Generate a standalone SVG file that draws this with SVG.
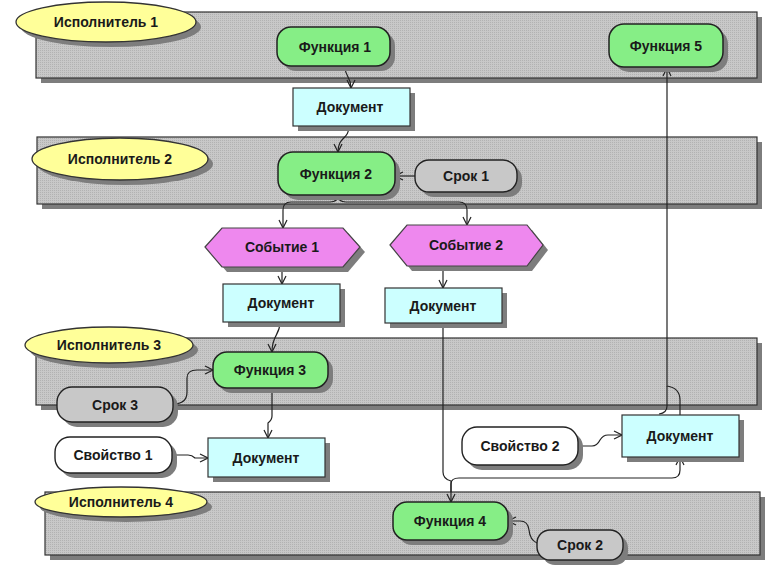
<svg xmlns="http://www.w3.org/2000/svg" width="769" height="570" viewBox="0 0 769 570">
  <defs>
    <pattern id="laneTex" width="2" height="2" patternUnits="userSpaceOnUse">
      <rect width="2" height="2" fill="#c8c8c8"/>
      <rect width="1" height="1" fill="#b2b2b2"/>
    </pattern>
    <marker id="arr" markerWidth="10" markerHeight="10" refX="9" refY="5" orient="auto" markerUnits="userSpaceOnUse">
      <path d="M1,1 L9,5 L1,9" fill="none" stroke="#222" stroke-width="1.2"/>
    </marker>
  </defs>
  <style>
    .lane { fill: url(#laneTex); stroke: #333; stroke-width: 1.2; }
    .shadow { fill: #7d7d7d; }
    .actor { fill: #ffff99; stroke: #333; stroke-width: 1.3; }
    .func { fill: #86ee86; stroke: #222; stroke-width: 1.5; }
    .doc { fill: #ccffff; stroke: #333; stroke-width: 1.2; }
    .event { fill: #ee88ee; stroke: #444; stroke-width: 1.2; }
    .term { fill: #c8c8c8; stroke: #222; stroke-width: 1.4; }
    .prop { fill: #ffffff; stroke: #222; stroke-width: 1.4; }
    .lbl { font-family: "Liberation Sans", Arial, sans-serif; font-weight: bold; font-size: 14px; fill: #1a1a1a; text-anchor: middle; dominant-baseline: central; }
    .conn path { fill: none; stroke: #222; stroke-width: 1.2; }
  </style>

  <rect width="769" height="570" fill="#ffffff"/>

  <!-- swimlanes -->
  <g id="lane1">
    <rect class="shadow" x="41" y="17" width="721" height="66"/>
    <rect class="lane" x="36" y="12" width="721" height="66"/>
  </g>
  <g id="lane2">
    <rect class="shadow" x="42" y="142" width="720" height="67"/>
    <rect class="lane" x="37" y="137" width="720" height="67"/>
  </g>
  <g id="lane3">
    <rect class="shadow" x="41" y="343" width="721" height="67"/>
    <rect class="lane" x="36" y="338" width="721" height="67"/>
  </g>
  <g id="lane4">
    <rect class="shadow" x="50" y="497" width="715" height="63"/>
    <rect class="lane" x="45" y="492" width="715" height="63"/>
  </g>

  <!-- performers -->
  <g id="actor1">
    <ellipse class="shadow" cx="111" cy="27" rx="90" ry="20"/>
    <ellipse class="actor" cx="106" cy="22" rx="90" ry="20"/>
    <text class="lbl" x="106" y="22">Исполнитель 1</text>
  </g>
  <g id="actor2">
    <ellipse class="shadow" cx="125" cy="164" rx="88" ry="21"/>
    <ellipse class="actor" cx="120" cy="159" rx="88" ry="21"/>
    <text class="lbl" x="120" y="159">Исполнитель 2</text>
  </g>
  <g id="actor3">
    <ellipse class="shadow" cx="114" cy="350" rx="84" ry="18"/>
    <ellipse class="actor" cx="109" cy="345" rx="84" ry="18"/>
    <text class="lbl" x="109" y="345">Исполнитель 3</text>
  </g>
  <g id="actor4">
    <ellipse class="shadow" cx="126" cy="507" rx="86" ry="15"/>
    <ellipse class="actor" cx="121" cy="502" rx="86" ry="15"/>
    <text class="lbl" x="121" y="502">Исполнитель 4</text>
  </g>

  <!-- connectors -->
  <g id="connectors" class="conn">
    <path d="M345 66 C345 78 351 76 351 88" marker-end="url(#arr)"/>
    <path d="M349 126 C349 140 338 136 338 152" marker-end="url(#arr)"/>
    <path d="M338 195 Q338 202 330 202 H291 Q283 202 283 210 V228" marker-end="url(#arr)"/>
    <path d="M338 195 Q338 202 346 202 H459 Q467 202 467 210 V225" marker-end="url(#arr)"/>
    <path d="M415 176 H395" marker-end="url(#arr)"/>
    <path d="M282 267 V284" marker-end="url(#arr)"/>
    <path d="M443 266 V288" marker-end="url(#arr)"/>
    <path d="M280 322 C280 336 272 334 272 352" marker-end="url(#arr)"/>
    <path d="M173 404 Q187 404 187 392 V378 Q187 370 197 370 H213" marker-end="url(#arr)"/>
    <path d="M272 388 V416 Q272 420 268 423 V438" marker-end="url(#arr)"/>
    <path d="M172 455 H188 Q192 455 195 458 H208" marker-end="url(#arr)"/>
    <path d="M443 323 V472 Q443 479 451 481 V502" marker-end="url(#arr)"/>
    <path d="M451 492 V484 Q451 478 459 478 H672 Q680 478 680 470 V457" marker-end="url(#arr)"/>
    <path d="M578 446 H592 Q597 446 600 440 Q603 435 608 435 H622" marker-end="url(#arr)"/>
    <path d="M537 543 Q530 540 529 530 Q528 521 520 521 H508" marker-end="url(#arr)"/>
    <path d="M680 415 V400 Q680 388 667 386 V68" marker-end="url(#arr)"/>
    <path d="M667 386 V406 Q667 413 659 414"/>
  </g>

  <!-- functions -->
  <g id="func1">
    <rect class="shadow" x="282" y="32" width="113" height="39" rx="14"/>
    <rect class="func" x="277" y="27" width="113" height="39" rx="14"/>
    <text class="lbl" x="335" y="47">Функция 1</text>
  </g>
  <g id="func5">
    <rect class="shadow" x="614" y="29" width="114" height="43" rx="15"/>
    <rect class="func" x="609" y="24" width="114" height="43" rx="15"/>
    <text class="lbl" x="666" y="46">Функция 5</text>
  </g>
  <g id="func2">
    <rect class="shadow" x="283" y="157" width="117" height="43" rx="15"/>
    <rect class="func" x="278" y="152" width="117" height="43" rx="15"/>
    <text class="lbl" x="336" y="174">Функция 2</text>
  </g>
  <g id="func3">
    <rect class="shadow" x="218" y="357" width="115" height="36" rx="14"/>
    <rect class="func" x="213" y="352" width="115" height="36" rx="14"/>
    <text class="lbl" x="270" y="370">Функция 3</text>
  </g>
  <g id="func4">
    <rect class="shadow" x="398" y="507" width="115" height="38" rx="14"/>
    <rect class="func" x="393" y="502" width="115" height="38" rx="14"/>
    <text class="lbl" x="450" y="521">Функция 4</text>
  </g>

  <!-- documents -->
  <g id="doc1">
    <rect class="shadow" x="298" y="93" width="117" height="38"/>
    <rect class="doc" x="293" y="88" width="117" height="38"/>
    <text class="lbl" x="350" y="107">Документ</text>
  </g>
  <g id="doc2">
    <rect class="shadow" x="228" y="289" width="117" height="38"/>
    <rect class="doc" x="223" y="284" width="117" height="38"/>
    <text class="lbl" x="281" y="303">Документ</text>
  </g>
  <g id="doc3">
    <rect class="shadow" x="390" y="293" width="117" height="35"/>
    <rect class="doc" x="385" y="288" width="117" height="35"/>
    <text class="lbl" x="443" y="306">Документ</text>
  </g>
  <g id="doc4">
    <rect class="shadow" x="213" y="443" width="117" height="39"/>
    <rect class="doc" x="208" y="438" width="117" height="39"/>
    <text class="lbl" x="266" y="458">Документ</text>
  </g>
  <g id="doc5">
    <rect class="shadow" x="627" y="420" width="117" height="42"/>
    <rect class="doc" x="622" y="415" width="117" height="42"/>
    <text class="lbl" x="680" y="436">Документ</text>
  </g>

  <!-- events -->
  <g id="event1">
    <polygon class="shadow" points="210,252 227,233 348,233 365,252 348,272 227,272"/>
    <polygon class="event" points="205,247 222,228 343,228 360,247 343,267 222,267"/>
    <text class="lbl" x="282" y="247">Событие 1</text>
  </g>
  <g id="event2">
    <polygon class="shadow" points="395,250 412,230 532,230 548,250 532,271 412,271"/>
    <polygon class="event" points="390,245 407,225 527,225 543,245 527,266 407,266"/>
    <text class="lbl" x="466" y="245">Событие 2</text>
  </g>

  <!-- deadlines -->
  <g id="term1">
    <rect class="shadow" x="420" y="165" width="102" height="32" rx="14"/>
    <rect class="term" x="415" y="160" width="102" height="32" rx="14"/>
    <text class="lbl" x="466" y="176">Срок 1</text>
  </g>
  <g id="term3">
    <rect class="shadow" x="62" y="392" width="116" height="35" rx="15"/>
    <rect class="term" x="57" y="387" width="116" height="35" rx="15"/>
    <text class="lbl" x="115" y="405">Срок 3</text>
  </g>
  <g id="term2">
    <rect class="shadow" x="542" y="535" width="86" height="30" rx="13"/>
    <rect class="term" x="537" y="530" width="86" height="30" rx="13"/>
    <text class="lbl" x="580" y="545">Срок 2</text>
  </g>

  <!-- properties -->
  <g id="prop1">
    <rect class="shadow" x="60" y="442" width="117" height="36" rx="15"/>
    <rect class="prop" x="55" y="437" width="117" height="36" rx="15"/>
    <text class="lbl" x="113" y="455">Свойство 1</text>
  </g>
  <g id="prop2">
    <rect class="shadow" x="467" y="432" width="116" height="38" rx="15"/>
    <rect class="prop" x="462" y="427" width="116" height="38" rx="15"/>
    <text class="lbl" x="520" y="446">Свойство 2</text>
  </g>
</svg>
